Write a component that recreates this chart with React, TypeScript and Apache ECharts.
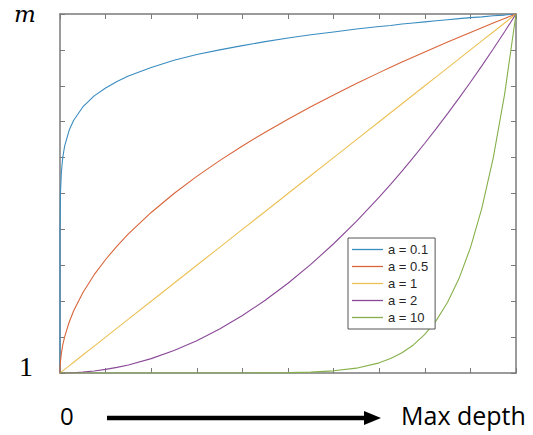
import React, { useEffect, useRef } from "react";
import * as echarts from "echarts";

const xs = [0, 0.0001, 0.001, 0.003, 0.006, 0.01, 0.02, 0.03, 0.05, 0.075, 0.1, 0.125, 0.15, 0.2, 0.25, 0.3, 0.35, 0.4, 0.45, 0.5, 0.55, 0.6, 0.65, 0.7, 0.725, 0.75, 0.775, 0.8, 0.825, 0.85, 0.875, 0.9, 0.925, 0.95, 0.975, 1];

const seriesNames = ["a = 0.1", "a = 0.5", "a = 1", "a = 2", "a = 10"];
const seriesColors = ["#3a8cc0", "#d9653a", "#ecc055", "#8a4a98", "#86b04a"];

const valsA01 = [0, 0.398, 0.501, 0.559, 0.6, 0.631, 0.676, 0.704, 0.741, 0.772, 0.794, 0.812, 0.827, 0.851, 0.871, 0.887, 0.9, 0.912, 0.923, 0.933, 0.942, 0.95, 0.958, 0.965, 0.968, 0.972, 0.975, 0.978, 0.981, 0.984, 0.987, 0.99, 0.992, 0.995, 0.997, 1];
const valsA05 = [0, 0.01, 0.0316, 0.0548, 0.0775, 0.1, 0.1414, 0.1732, 0.2236, 0.2739, 0.3162, 0.3536, 0.3873, 0.4472, 0.5, 0.5477, 0.5916, 0.6325, 0.6708, 0.7071, 0.7416, 0.7746, 0.8062, 0.8367, 0.8515, 0.866, 0.8803, 0.8944, 0.9083, 0.922, 0.9354, 0.9487, 0.9618, 0.9747, 0.9874, 1];
const valsA1 = [0, 0.0001, 0.001, 0.003, 0.006, 0.01, 0.02, 0.03, 0.05, 0.075, 0.1, 0.125, 0.15, 0.2, 0.25, 0.3, 0.35, 0.4, 0.45, 0.5, 0.55, 0.6, 0.65, 0.7, 0.725, 0.75, 0.775, 0.8, 0.825, 0.85, 0.875, 0.9, 0.925, 0.95, 0.975, 1];
const valsA2 = [0, 0, 0, 0.000009, 0.000036, 0.0001, 0.0004, 0.0009, 0.0025, 0.0056, 0.01, 0.0156, 0.0225, 0.04, 0.0625, 0.09, 0.1225, 0.16, 0.2025, 0.25, 0.3025, 0.36, 0.4225, 0.49, 0.5256, 0.5625, 0.6006, 0.64, 0.6806, 0.7225, 0.7656, 0.81, 0.8556, 0.9025, 0.9506, 1];
const valsA10 = [0, 0, 0, 0, 0, 0, 0, 0, 0, 0, 0, 0, 0, 0, 0, 0, 0.00003, 0.0001, 0.00034, 0.00098, 0.00253, 0.00605, 0.01346, 0.02825, 0.0401, 0.0563, 0.0782, 0.1074, 0.146, 0.1969, 0.263, 0.3487, 0.4586, 0.5987, 0.7763, 1];

const allVals = [valsA01, valsA05, valsA1, valsA2, valsA10];

const axisGray = "#7a7a7a";

export default function App() {
  const ref = useRef<HTMLDivElement>(null);
  useEffect(() => {
    document.body.style.margin = "0";
    const chart = echarts.init(ref.current!, null, { renderer: "svg" });
    const valueAxisCommon = {
      type: "value" as const,
      min: 0,
      max: 1,
      interval: 0.1,
      axisLine: { show: true, onZero: false, lineStyle: { color: axisGray, width: 1.5 } },
      axisTick: { show: true, inside: true, length: 5, lineStyle: { color: axisGray, width: 1 } },
      axisLabel: { show: false },
      splitLine: { show: false },
    };
    chart.setOption({
      animation: false,
      backgroundColor: "#ffffff",
      grid: { left: 60, right: 17, top: 14, bottom: 62 },
      xAxis: [
        { ...valueAxisCommon, position: "bottom" },
        { ...valueAxisCommon, position: "top" },
      ],
      yAxis: [
        { ...valueAxisCommon, position: "left" },
        { ...valueAxisCommon, position: "right" },
      ],
      legend: {
        orient: "vertical",
        left: 348,
        top: 238,
        icon: "rect",
        itemWidth: 31,
        itemHeight: 1.3,
        itemGap: 2,
        padding: [4, 7, 4, 4],
        borderColor: "#555555",
        borderWidth: 1,
        backgroundColor: "#ffffff",
        textStyle: { fontFamily: "'Liberation Sans', Arial, sans-serif", fontSize: 13, color: "#262626", lineHeight: 15 },
        data: seriesNames,
      },
      series: allVals.map((vals, i) => ({
        name: seriesNames[i],
        type: "line",
        symbol: "none",
        showSymbol: false,
        color: seriesColors[i],
        lineStyle: { width: 1.1, color: seriesColors[i] },
        data: xs.map((x, j) => [x, vals[j]]),
        z: 2,
      })),
      graphic: [
        {
          type: "text",
          left: 14,
          top: 2,
          style: { text: "m", font: "italic 23px 'DejaVu Serif', serif", fill: "#000" },
        },
        {
          type: "text",
          left: 19,
          top: 352,
          style: { text: "1", font: "28px 'Liberation Serif', serif", fill: "#000" },
        },
        {
          type: "text",
          left: 60,
          top: 403,
          style: { text: "0", font: "24px 'Open Sans', sans-serif", fill: "#000" },
        },
        {
          type: "line",
          shape: { x1: 107, y1: 418, x2: 368, y2: 418 },
          style: { stroke: "#000", lineWidth: 4.5 },
        },
        {
          type: "polygon",
          shape: { points: [[364, 411], [381, 418], [364, 425]] },
          style: { fill: "#000" },
        },
        {
          type: "text",
          left: 401,
          top: 402,
          style: { text: "Max depth", font: "25px 'Open Sans', sans-serif", fill: "#000" },
        },
      ],
    });
    return () => chart.dispose();
  }, []);
  return <div ref={ref} style={{ width: 533, height: 435, position: "absolute", left: 0, top: 0 }} />;
}
